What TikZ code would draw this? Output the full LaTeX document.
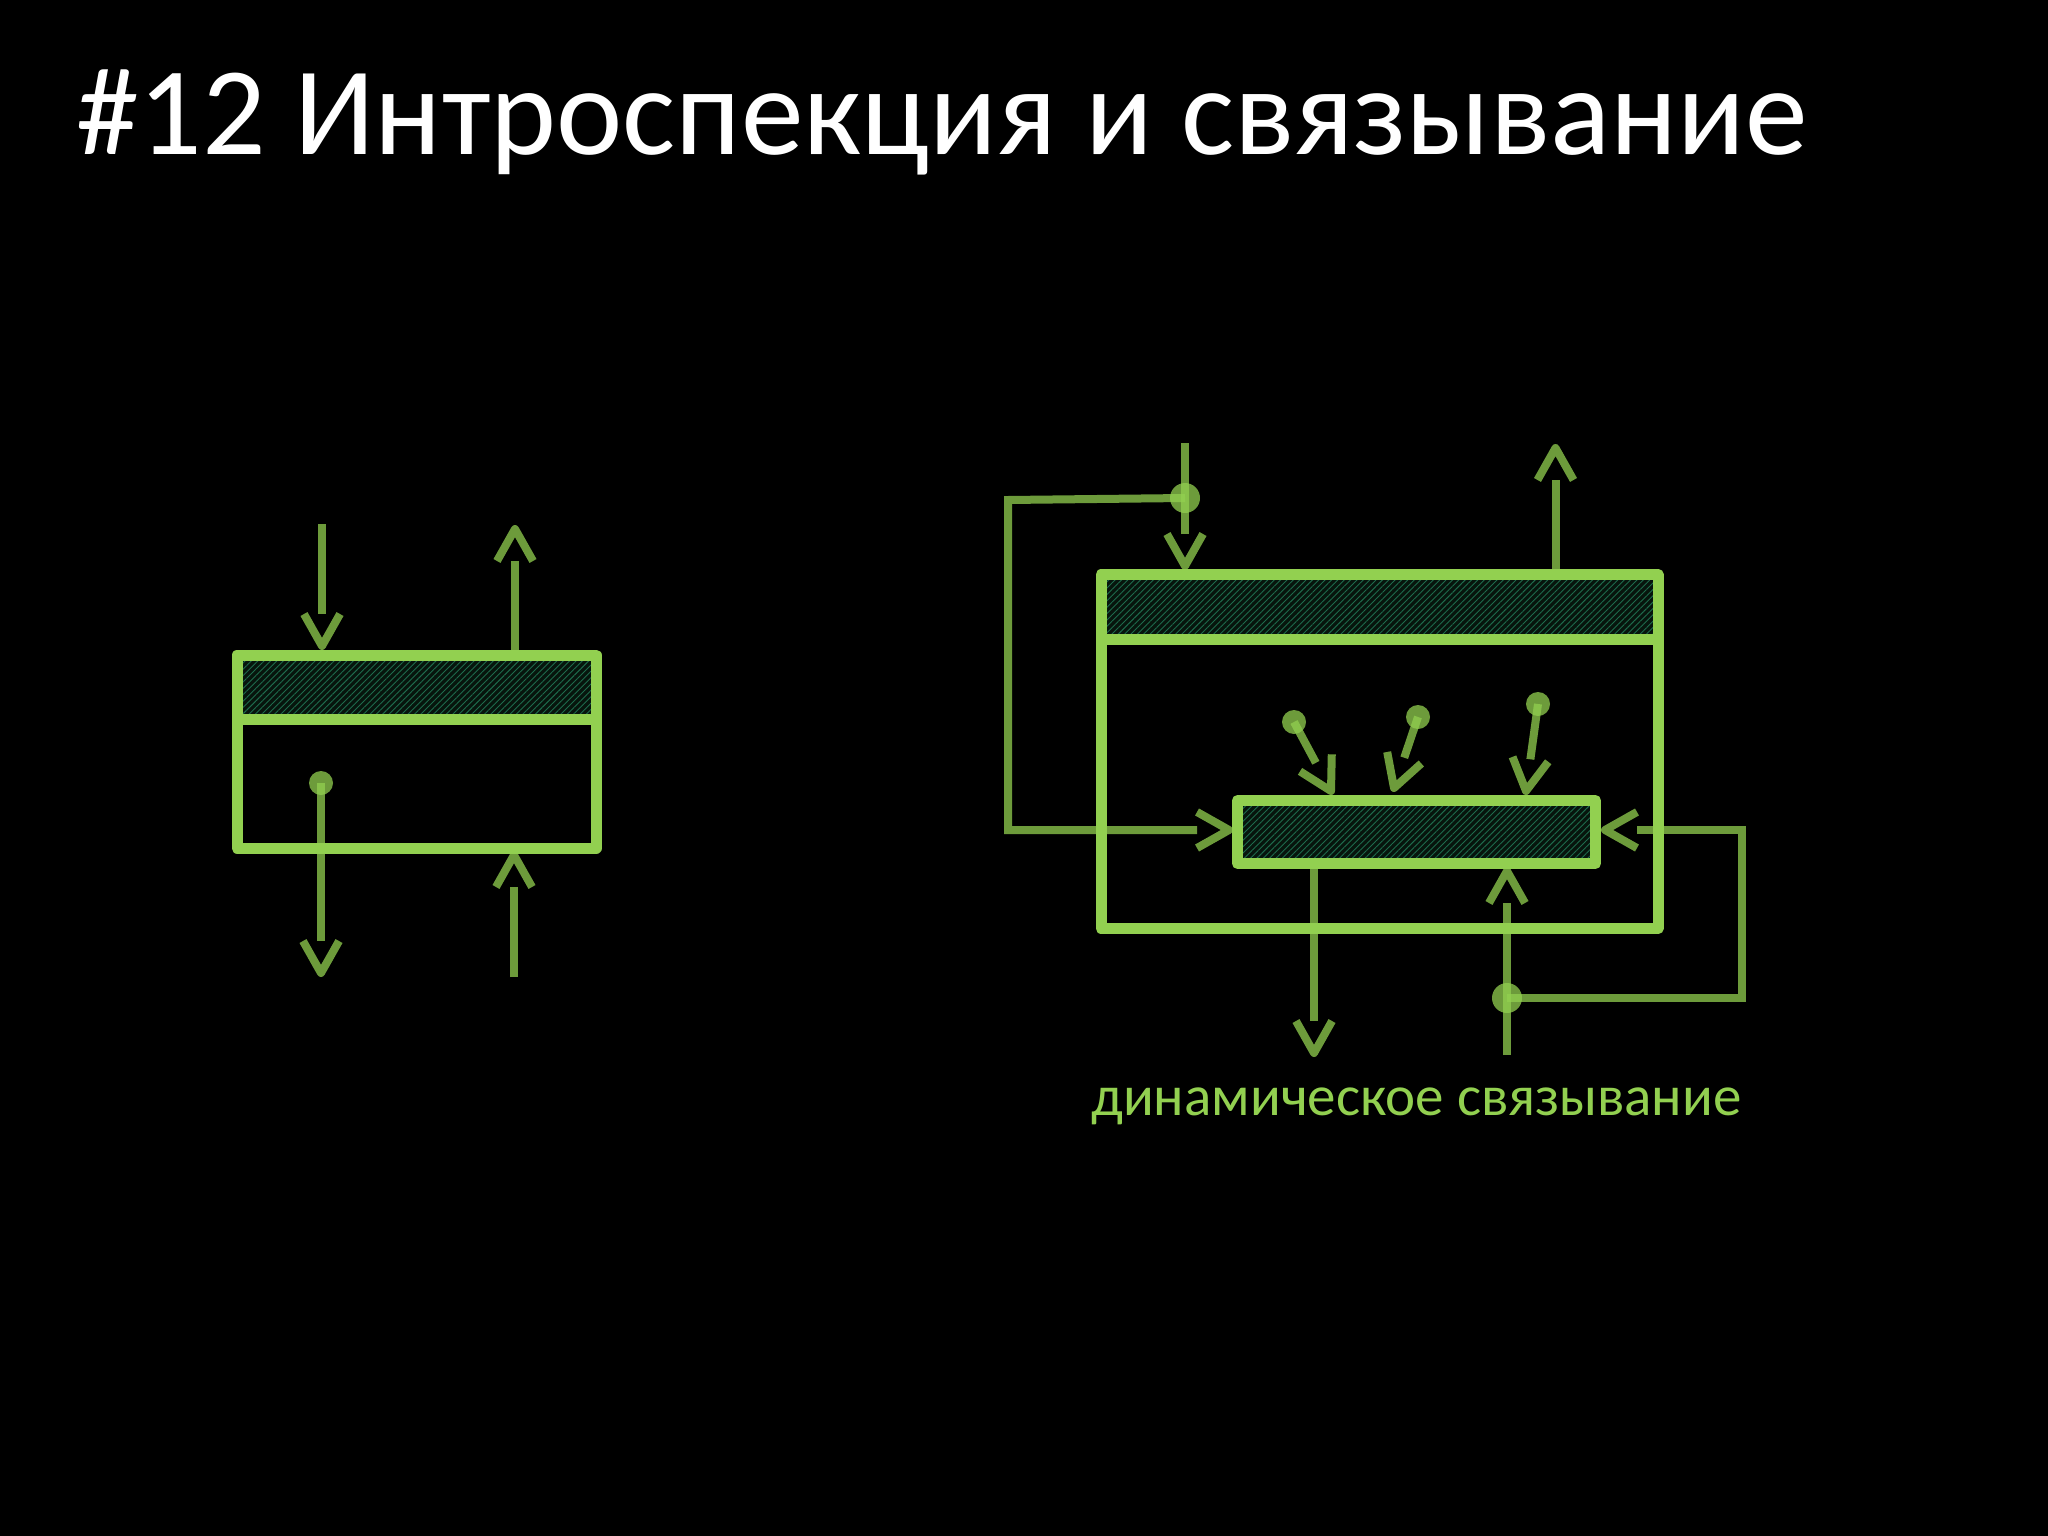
\documentclass[tikz,border=0pt]{standalone}
\usepackage{fontspec}
\setmainfont{Carlito}
\usetikzlibrary{calc,patterns.meta}
\definecolor{boxgreen}{HTML}{92D050}
\definecolor{hatchbg}{HTML}{07150D}
\definecolor{hatchln}{HTML}{1E6B4C}
\tikzset{
  boxline/.style={draw=boxgreen,line width=11pt,line join=round},
  hatchfill/.style={fill=hatchbg,postaction={pattern={Lines[angle=45,distance=4.5pt,line width=0.9pt]},pattern color=hatchln}},
  conn/.style={draw=boxgreen,draw opacity=0.75,line width=8pt},
  pinhead/.style={fill=boxgreen,fill opacity=0.75},
}
\newcommand\openarr[2]{%
  \draw[conn] (#1) -- ($(#2)!32pt!(#1)$);
  \draw[conn,line join=round] ($(#2)!36.7pt!29.4:(#1)$) -- (#2) -- ($(#2)!36.7pt!-29.4:(#1)$);
}
\begin{document}
\begin{tikzpicture}[x=1pt,y=-1pt]
\fill[black] (0,0) rectangle (2048,1536);
\useasboundingbox (0,0) rectangle (2048,1536);

% title
\node[anchor=base west,text=white,font=\fontsize{125.5}{140}\selectfont,inner sep=0] (title) at (76,154) {\#12 Интроспекция и связывание};

% ---------- left diagram ----------
\coordinate (LA) at (237,655);
\coordinate (LB) at (596,848);
\fill[hatchfill] (237,655) rectangle (596,719);
\draw[boxline] (LA) rectangle (LB);
\draw[boxline] (237,719) -- (596,719);

\coordinate (lin0) at (322,524);   \coordinate (lin1) at (322,646);
\coordinate (lout0) at (515,650);  \coordinate (lout1) at (515,529);
\coordinate (ldot) at (321,783);   \coordinate (ldown) at (321,973);
\coordinate (lup0) at (514,977);   \coordinate (lup1) at (514,855);
\openarr{lin0}{lin1}
\openarr{lout0}{lout1}
\fill[pinhead] (ldot) circle[radius=12];
\openarr{ldot}{ldown}
\openarr{lup0}{lup1}

% ---------- right diagram ----------
\coordinate (RA) at (1101,574.5);
\coordinate (RB) at (1658,928.5);
\fill[hatchfill] (1101,574.5) rectangle (1658,639);
\draw[boxline] (RA) rectangle (RB);
\draw[boxline] (1101,639) -- (1658,639);

\coordinate (IA) at (1237.5,800.5);
\coordinate (IB) at (1595.5,863.5);
\fill[hatchfill] (IA) rectangle (IB);
\draw[boxline] (IA) rectangle (IB);

% top input with junction
\coordinate (tin0) at (1185,443);
\coordinate (tin1) at (1185,566);
\coordinate (jtop) at (1185,498);
\openarr{tin0}{tin1}
\coordinate (fl1) at (1008,500);
\coordinate (fl2) at (1008,830);
\coordinate (flt) at (1229,830);
\draw[conn,line join=miter] (jtop) -- (fl1) -- (fl2) -- ($(flt)!32pt!(fl2)$);
\draw[conn,line join=round] ($(flt)!36.7pt!29.4:(fl2)$) -- (flt) -- ($(flt)!36.7pt!-29.4:(fl2)$);
\fill[pinhead] (jtop) circle[radius=15];

% top output
\coordinate (tout0) at (1555.5,569);
\coordinate (tout1) at (1555.5,448);
\openarr{tout0}{tout1}

% three pins
\coordinate (p1) at (1294,722);  \coordinate (p1t) at (1331,791);
\coordinate (p2) at (1418,717);  \coordinate (p2t) at (1394,788);
\coordinate (p3) at (1538,704);  \coordinate (p3t) at (1526,791);
\fill[pinhead] (p1) circle[radius=12];
\fill[pinhead] (p2) circle[radius=12];
\fill[pinhead] (p3) circle[radius=12];
\openarr{p1}{p1t}
\openarr{p2}{p2t}
\openarr{p3}{p3t}

% right feedback
\coordinate (jbot) at (1507,998);
\coordinate (fr1) at (1742,998);
\coordinate (fr2) at (1742,830);
\coordinate (frt) at (1605,830);
\draw[conn,line join=miter] (jbot) -- (fr1) -- (fr2) -- ($(frt)!32pt!(fr2)$);
\draw[conn,line join=round] ($(frt)!36.7pt!29.4:(fr2)$) -- (frt) -- ($(frt)!36.7pt!-29.4:(fr2)$);
\coordinate (bin0) at (1507,1055);
\coordinate (bin1) at (1507,871);
\openarr{bin0}{bin1}
\fill[pinhead] (jbot) circle[radius=15];

% bottom output
\coordinate (bout0) at (1314,869);
\coordinate (bout1) at (1314,1053);
\openarr{bout0}{bout1}

% label
\node[anchor=base west,text=boxgreen,font=\fontsize{57}{64}\selectfont,inner sep=0] (lbl) at (1091,1115) {динамическое связывание};
\end{tikzpicture}
\end{document}
